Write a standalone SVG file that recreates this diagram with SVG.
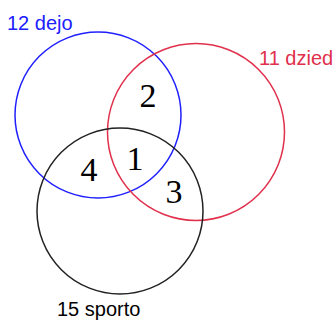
<svg xmlns="http://www.w3.org/2000/svg" width="336" height="320" viewBox="0 0 336 320">
<style>
.c{fill:none;stroke-width:1.5}
.lab{font-family:"Liberation Sans",Arial,sans-serif;font-size:20px}
.num{font-family:"Liberation Serif","Times New Roman",serif;font-size:34px;fill:#000}
</style>
<rect width="336" height="320" fill="#fff"/>
<g id="dejo"><circle class="c" cx="98" cy="115" r="83" stroke="#2020ff"/><text class="lab" x="7" y="30" fill="#2020ff">12 dejo</text></g>
<g id="dzied"><circle class="c" cx="196" cy="132" r="88.5" stroke="#e0304c"/><text class="lab" x="259" y="65" fill="#e0304c">11 dzied</text></g>
<g id="sporto"><circle class="c" cx="120" cy="211" r="83" stroke="#222"/><text class="lab" x="57" y="316" fill="#000">15 sporto</text></g>
<g id="numbers">
<text class="num" x="148" y="107" text-anchor="middle">2</text>
<text class="num" x="135" y="170" text-anchor="middle">1</text>
<text class="num" x="89" y="181" text-anchor="middle">4</text>
<text class="num" x="174" y="203" text-anchor="middle">3</text>
</g>
</svg>
